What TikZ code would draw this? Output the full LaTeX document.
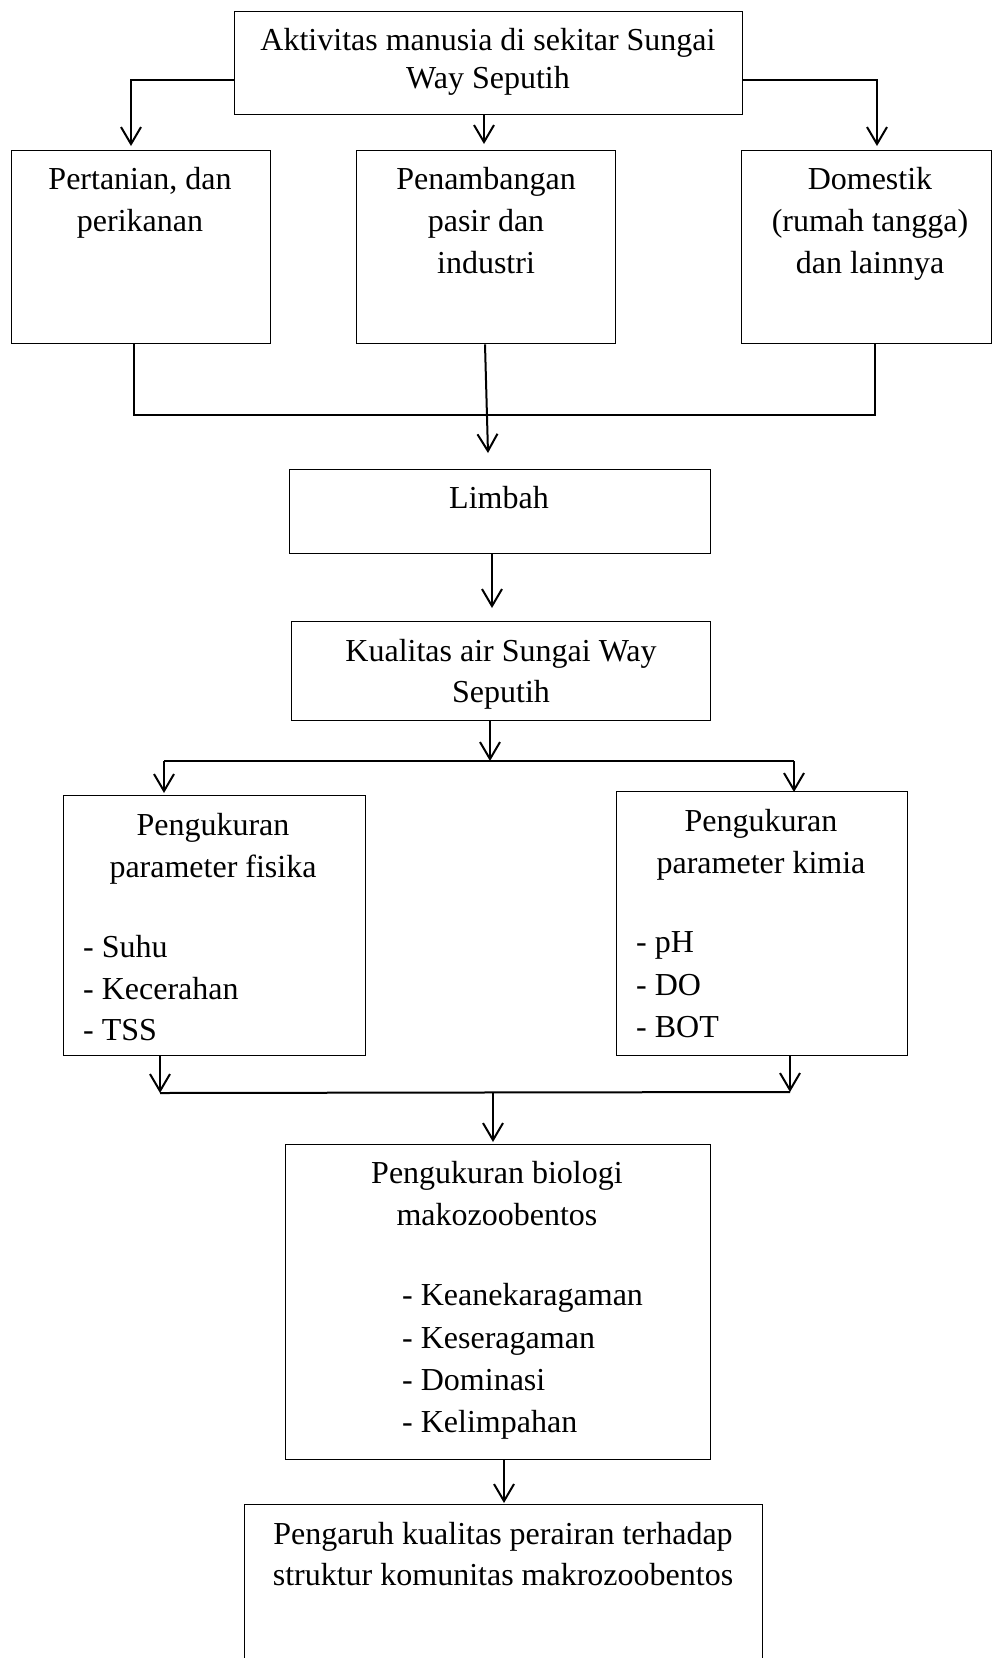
\documentclass[tikz,border=0pt]{standalone}
\usepackage{fontspec}
\setmainfont{Liberation Serif}
\usetikzlibrary{arrows.meta}
\begin{document}
\begin{tikzpicture}[x=1pt,y=-1pt,
  box/.style={draw,line width=1.3pt,inner sep=0pt,anchor=north west},
  txt/.style={inner sep=0pt,anchor=base,font=\fontsize{32}{38}\selectfont},
  ltxt/.style={inner sep=0pt,anchor=base west,font=\fontsize{32}{38}\selectfont},
  conn/.style={line width=2pt},
  arr/.style={line width=2pt,-{Straight Barb[length=17pt,width=20pt,line width=2pt]}}]
\useasboundingbox (0,0) rectangle (992,1658);
% boxes
\node[box,minimum width=508pt,minimum height=103pt] (top) at (234,11) {};
\node[box,minimum width=259pt,minimum height=193pt] (b1) at (11,150) {};
\node[box,minimum width=259pt,minimum height=193pt] (b2) at (356,150) {};
\node[box,minimum width=250pt,minimum height=193pt] (b3) at (741,150) {};
\node[box,minimum width=421pt,minimum height=84pt] (limbah) at (289,469) {};
\node[box,minimum width=419pt,minimum height=99pt] (kual) at (291,621) {};
\node[box,minimum width=302pt,minimum height=260pt] (fis) at (63,795) {};
\node[box,minimum width=291pt,minimum height=264pt] (kim) at (616,791) {};
\node[box,minimum width=425pt,minimum height=315pt] (bio) at (285,1144) {};
\node[box,minimum width=518pt,minimum height=170pt] (fin) at (244,1504) {};
% texts
\node[txt] (t1a) at (488,50) {Aktivitas manusia di sekitar Sungai};
\node[txt] (t1b) at (488,88) {Way Seputih};
\node[txt] (t2a) at (140,189) {Pertanian, dan};
\node[txt] (t2b) at (140,231) {perikanan};
\node[txt] (t3a) at (486,189) {Penambangan};
\node[txt] (t3b) at (486,231) {pasir dan};
\node[txt] (t3c) at (486,273) {industri};
\node[txt] (t4a) at (870,189) {Domestik};
\node[txt] (t4b) at (870,231) {(rumah tangga)};
\node[txt] (t4c) at (870,273) {dan lainnya};
\node[txt] (t5) at (499,508) {Limbah};
\node[txt] (t6a) at (501,661) {Kualitas air Sungai Way};
\node[txt] (t6b) at (501,702) {Seputih};
\node[txt] (t7a) at (213,835) {Pengukuran};
\node[txt] (t7b) at (213,877) {parameter fisika};
\node[ltxt] (t7c) at (83,957) {- Suhu};
\node[ltxt] (t7d) at (83,999) {- Kecerahan};
\node[ltxt] (t7e) at (83,1040) {- TSS};
\node[txt] (t8a) at (761,831) {Pengukuran};
\node[txt] (t8b) at (761,873) {parameter kimia};
\node[ltxt] (t8c) at (636,952) {- pH};
\node[ltxt] (t8d) at (636,995) {- DO};
\node[ltxt] (t8e) at (636,1037) {- BOT};
\node[txt] (t9a) at (497,1183) {Pengukuran biologi};
\node[txt] (t9b) at (497,1225) {makozoobentos};
\node[ltxt] (t9c) at (402,1305) {- Keanekaragaman};
\node[ltxt] (t9d) at (402,1348) {- Keseragaman};
\node[ltxt] (t9e) at (402,1390) {- Dominasi};
\node[ltxt] (t9f) at (402,1432) {- Kelimpahan};
\node[txt] (t10a) at (503,1544) {Pengaruh kualitas perairan terhadap};
\node[txt] (t10b) at (503,1585) {struktur komunitas makrozoobentos};
% connector coordinates
\coordinate (tl) at (131,80);
\coordinate (tr) at (877,80);
\coordinate (a1) at (131,146);
\coordinate (a2) at (484,144);
\coordinate (a3) at (877,146);
\coordinate (m1) at (134,415);
\coordinate (m3) at (875,415);
\coordinate (a4) at (488,453);
\coordinate (a5) at (492,608);
\coordinate (s0) at (490,761);
\coordinate (sl) at (164,761);
\coordinate (sr) at (794,761);
\coordinate (a6) at (164,793);
\coordinate (a7) at (794,792);
\coordinate (j1) at (160,1093);
\coordinate (j2) at (790,1092);
\coordinate (j0) at (493,1093);
\coordinate (a8) at (493,1142);
\coordinate (a9) at (504,1503);
% connectors
\draw[arr] (top.west |- tl) -- (tl) -- (a1);
\draw[arr] (top.east |- tr) -- (tr) -- (a3);
\draw[arr] (top.south -| a2) -- (a2);
\draw[conn] (b1.south -| m1) -- (m1) -- (m3) -- (b3.south -| m3);
\draw[arr] (b2.south -| 485,0) -- (a4);
\draw[arr] (limbah.south -| a5) -- (a5);
\draw[arr] (kual.south -| s0) -- (s0);
\draw[conn] (sl) -- (sr);
\draw[arr] (sl) -- (a6);
\draw[arr] (sr) -- (a7);
\draw[arr] (fis.south -| j1) -- (j1);
\draw[arr] (kim.south -| j2) -- (j2);
\draw[conn] (j1) -- (j2);
\draw[arr] (j0) -- (a8);
\draw[arr] (bio.south -| a9) -- (a9);
\end{tikzpicture}
\end{document}
